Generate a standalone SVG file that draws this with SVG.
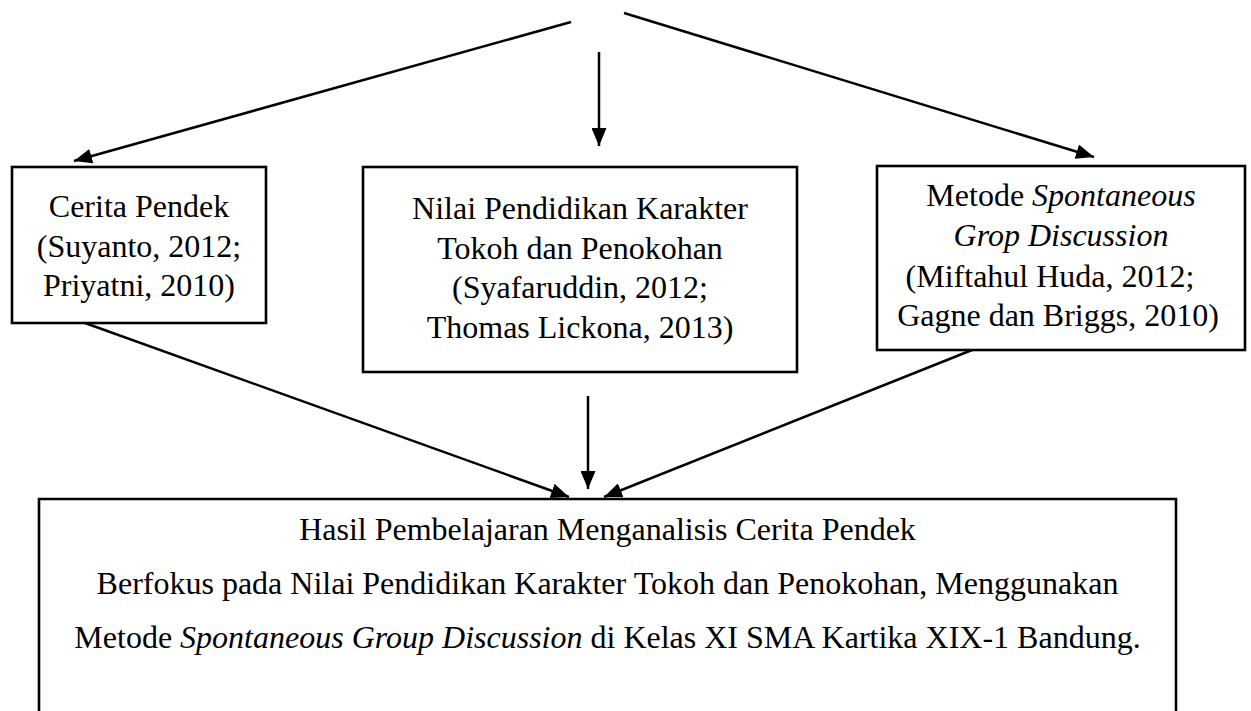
<svg xmlns="http://www.w3.org/2000/svg" width="1251" height="711" viewBox="0 0 1251 711">
<style>
.box{fill:#fff;stroke:#000;stroke-width:2.6}
.conn{stroke:#000;stroke-width:2.5;fill:none}
text{font-family:"Liberation Serif","Times New Roman",serif;font-size:32px;fill:#000;text-anchor:middle}
.i{font-style:italic}
</style>
<defs>
<marker id="ah" viewBox="0 0 18 15" refX="18" refY="7.5" markerWidth="18" markerHeight="15" markerUnits="userSpaceOnUse" orient="auto">
<path d="M0,0 L18,7.5 L0,15 Z" fill="#000"/>
</marker>
</defs>
<rect width="1251" height="711" fill="#fff"/>
<g id="connectors">
<line class="conn" x1="571" y1="22" x2="74" y2="161" marker-end="url(#ah)"/>
<line class="conn" x1="624" y1="13" x2="1094" y2="157" marker-end="url(#ah)"/>
<line class="conn" x1="599" y1="52" x2="599" y2="146" marker-end="url(#ah)"/>
<line class="conn" x1="85" y1="323" x2="569" y2="497" marker-end="url(#ah)"/>
<line class="conn" x1="588" y1="396" x2="588" y2="489" marker-end="url(#ah)"/>
<line class="conn" x1="972" y1="350" x2="604" y2="497" marker-end="url(#ah)"/>
</g>
<g id="node-cerpen">
<rect class="box" x="12" y="167" width="254" height="156"/>
<text x="139" y="217">Cerita Pendek</text>
<text x="139" y="257">(Suyanto, 2012;</text>
<text x="139" y="296">Priyatni, 2010)</text>
</g>
<g id="node-nilai">
<rect class="box" x="363" y="167" width="434" height="205"/>
<text x="580" y="219">Nilai Pendidikan Karakter</text>
<text x="580" y="259">Tokoh dan Penokohan</text>
<text x="580" y="298">(Syafaruddin, 2012;</text>
<text x="580" y="338">Thomas Lickona, 2013)</text>
</g>
<g id="node-metode">
<rect class="box" x="877" y="166" width="368" height="184"/>
<text x="1061" y="206">Metode <tspan class="i">Spontaneous</tspan></text>
<text x="1061" y="246" class="i">Grop Discussion</text>
<text x="1050" y="287">(Miftahul Huda, 2012;</text>
<text x="1058" y="326">Gagne dan Briggs, 2010)</text>
</g>
<g id="node-hasil">
<path class="box" d="M39,712 L39,499 L1176,499 L1176,712"/>
<text x="607.5" y="540">Hasil Pembelajaran Menganalisis Cerita Pendek</text>
<text x="607.5" y="594">Berfokus pada Nilai Pendidikan Karakter Tokoh dan Penokohan, Menggunakan</text>
<text x="607.5" y="648">Metode <tspan class="i">Spontaneous Group Discussion</tspan> di Kelas XI SMA Kartika XIX-1 Bandung.</text>
</g>
</svg>
